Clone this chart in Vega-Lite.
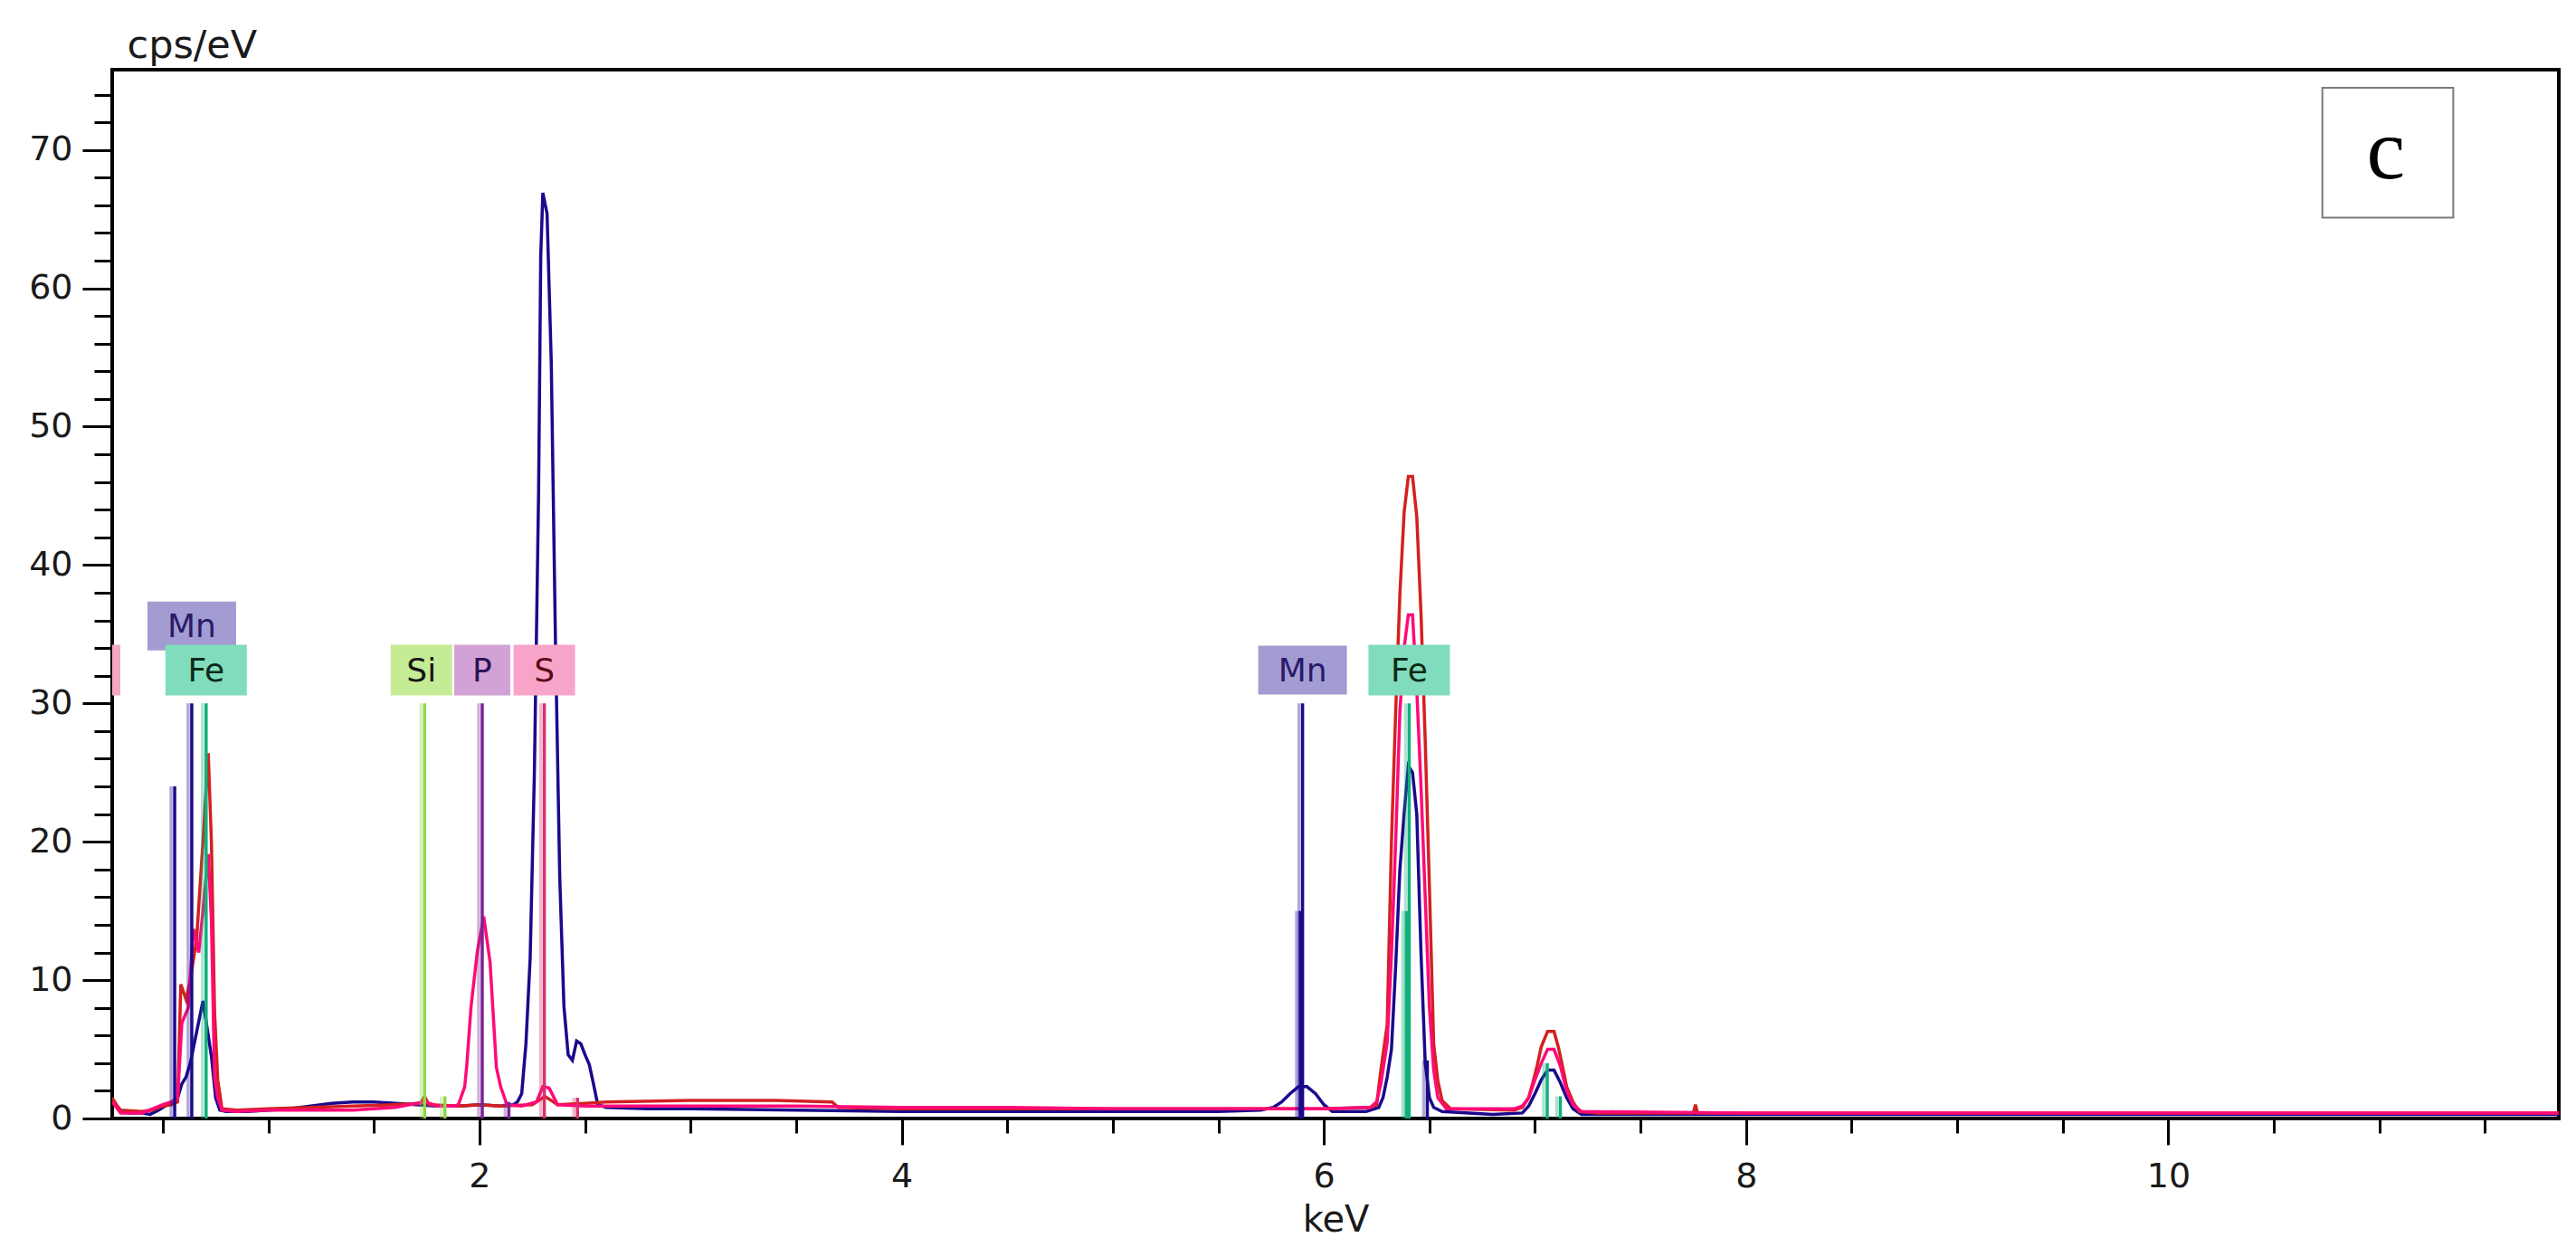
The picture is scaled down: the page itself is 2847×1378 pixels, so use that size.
{
  "$schema": "https://vega.github.io/schema/vega-lite/v6.json",
  "autosize": {"type": "none"},
  "width": 2704,
  "height": 1159,
  "padding": {"left": 124, "top": 77, "right": 19, "bottom": 142},
  "background": "white",
  "config": {"view": {"stroke": "black", "strokeWidth": 4}, "font": "DejaVu Sans"},
  "datasets": {
    "spectra": [
      {"series":"A","keV":0.26,"cps":1.3},{"series":"A","keV":0.28,"cps":0.9},{"series":"A","keV":0.30,"cps":0.5},{"series":"A","keV":0.34,"cps":0.4},{"series":"A","keV":0.40,"cps":0.4},{"series":"A","keV":0.44,"cps":0.3},{"series":"A","keV":0.48,"cps":0.6},{"series":"A","keV":0.52,"cps":1.0},{"series":"A","keV":0.55,"cps":1.2},{"series":"A","keV":0.57,"cps":1.5},{"series":"A","keV":0.59,"cps":2.5},{"series":"A","keV":0.61,"cps":3.0},{"series":"A","keV":0.63,"cps":4.0},{"series":"A","keV":0.65,"cps":5.5},{"series":"A","keV":0.67,"cps":7.0},{"series":"A","keV":0.69,"cps":8.5},{"series":"A","keV":0.71,"cps":6.5},{"series":"A","keV":0.73,"cps":4.5},{"series":"A","keV":0.75,"cps":1.5},{"series":"A","keV":0.77,"cps":0.6},{"series":"A","keV":0.80,"cps":0.5},{"series":"A","keV":0.90,"cps":0.5},{"series":"A","keV":1.00,"cps":0.6},{"series":"A","keV":1.10,"cps":0.7},{"series":"A","keV":1.20,"cps":0.9},{"series":"A","keV":1.30,"cps":1.1},{"series":"A","keV":1.40,"cps":1.2},{"series":"A","keV":1.50,"cps":1.2},{"series":"A","keV":1.60,"cps":1.1},{"series":"A","keV":1.70,"cps":1.0},{"series":"A","keV":1.80,"cps":0.9},{"series":"A","keV":1.90,"cps":0.9},{"series":"A","keV":2.00,"cps":1.0},{"series":"A","keV":2.10,"cps":0.9},{"series":"A","keV":2.16,"cps":1.0},{"series":"A","keV":2.18,"cps":1.2},{"series":"A","keV":2.20,"cps":1.8},{"series":"A","keV":2.22,"cps":5.4},{"series":"A","keV":2.24,"cps":11.6},{"series":"A","keV":2.26,"cps":25.0},{"series":"A","keV":2.28,"cps":45.3},{"series":"A","keV":2.29,"cps":62.3},{"series":"A","keV":2.30,"cps":66.9},{"series":"A","keV":2.32,"cps":65.4},{"series":"A","keV":2.34,"cps":54.6},{"series":"A","keV":2.36,"cps":34.3},{"series":"A","keV":2.38,"cps":17.5},{"series":"A","keV":2.40,"cps":8.1},{"series":"A","keV":2.42,"cps":4.6},{"series":"A","keV":2.44,"cps":4.2},{"series":"A","keV":2.46,"cps":5.6},{"series":"A","keV":2.48,"cps":5.4},{"series":"A","keV":2.50,"cps":4.6},{"series":"A","keV":2.52,"cps":3.9},{"series":"A","keV":2.54,"cps":2.5},{"series":"A","keV":2.56,"cps":1.0},{"series":"A","keV":2.60,"cps":0.8},{"series":"A","keV":2.80,"cps":0.7},{"series":"A","keV":3.00,"cps":0.7},{"series":"A","keV":3.50,"cps":0.6},{"series":"A","keV":4.00,"cps":0.5},{"series":"A","keV":4.50,"cps":0.5},{"series":"A","keV":5.00,"cps":0.5},{"series":"A","keV":5.50,"cps":0.5},{"series":"A","keV":5.70,"cps":0.6},{"series":"A","keV":5.76,"cps":0.8},{"series":"A","keV":5.80,"cps":1.2},{"series":"A","keV":5.84,"cps":1.8},{"series":"A","keV":5.88,"cps":2.3},{"series":"A","keV":5.92,"cps":2.3},{"series":"A","keV":5.96,"cps":1.8},{"series":"A","keV":6.00,"cps":1.0},{"series":"A","keV":6.04,"cps":0.5},{"series":"A","keV":6.20,"cps":0.5},{"series":"A","keV":6.26,"cps":0.8},{"series":"A","keV":6.28,"cps":1.5},{"series":"A","keV":6.30,"cps":3.0},{"series":"A","keV":6.32,"cps":5.0},{"series":"A","keV":6.34,"cps":11.0},{"series":"A","keV":6.36,"cps":18.0},{"series":"A","keV":6.38,"cps":22.0},{"series":"A","keV":6.40,"cps":25.5},{"series":"A","keV":6.42,"cps":25.0},{"series":"A","keV":6.44,"cps":22.0},{"series":"A","keV":6.46,"cps":12.0},{"series":"A","keV":6.48,"cps":4.0},{"series":"A","keV":6.50,"cps":1.5},{"series":"A","keV":6.52,"cps":0.8},{"series":"A","keV":6.56,"cps":0.5},{"series":"A","keV":6.80,"cps":0.3},{"series":"A","keV":6.94,"cps":0.4},{"series":"A","keV":6.97,"cps":0.9},{"series":"A","keV":7.00,"cps":1.8},{"series":"A","keV":7.03,"cps":2.8},{"series":"A","keV":7.06,"cps":3.5},{"series":"A","keV":7.09,"cps":3.5},{"series":"A","keV":7.12,"cps":2.6},{"series":"A","keV":7.15,"cps":1.5},{"series":"A","keV":7.18,"cps":0.7},{"series":"A","keV":7.22,"cps":0.3},{"series":"A","keV":8.00,"cps":0.3},{"series":"A","keV":10.00,"cps":0.3},{"series":"A","keV":11.85,"cps":0.3},
      {"series":"B","keV":0.26,"cps":1.5},{"series":"B","keV":0.28,"cps":1.0},{"series":"B","keV":0.30,"cps":0.6},{"series":"B","keV":0.40,"cps":0.5},{"series":"B","keV":0.45,"cps":0.6},{"series":"B","keV":0.50,"cps":0.9},{"series":"B","keV":0.54,"cps":1.0},{"series":"B","keV":0.57,"cps":1.2},{"series":"B","keV":0.585,"cps":9.7},{"series":"B","keV":0.61,"cps":8.6},{"series":"B","keV":0.63,"cps":10.0},{"series":"B","keV":0.66,"cps":13.0},{"series":"B","keV":0.69,"cps":20.0},{"series":"B","keV":0.715,"cps":26.4},{"series":"B","keV":0.73,"cps":20.0},{"series":"B","keV":0.745,"cps":7.7},{"series":"B","keV":0.76,"cps":2.8},{"series":"B","keV":0.78,"cps":0.7},{"series":"B","keV":0.85,"cps":0.6},{"series":"B","keV":1.00,"cps":0.7},{"series":"B","keV":1.20,"cps":0.8},{"series":"B","keV":1.40,"cps":0.9},{"series":"B","keV":1.60,"cps":1.0},{"series":"B","keV":1.72,"cps":1.1},{"series":"B","keV":1.74,"cps":1.6},{"series":"B","keV":1.76,"cps":1.0},{"series":"B","keV":1.90,"cps":0.9},{"series":"B","keV":2.00,"cps":1.0},{"series":"B","keV":2.10,"cps":0.9},{"series":"B","keV":2.25,"cps":1.0},{"series":"B","keV":2.31,"cps":1.6},{"series":"B","keV":2.37,"cps":1.0},{"series":"B","keV":2.50,"cps":1.1},{"series":"B","keV":2.60,"cps":1.2},{"series":"B","keV":3.00,"cps":1.3},{"series":"B","keV":3.40,"cps":1.3},{"series":"B","keV":3.67,"cps":1.2},{"series":"B","keV":3.70,"cps":0.8},{"series":"B","keV":4.00,"cps":0.7},{"series":"B","keV":5.00,"cps":0.7},{"series":"B","keV":6.00,"cps":0.7},{"series":"B","keV":6.22,"cps":0.8},{"series":"B","keV":6.25,"cps":1.0},{"series":"B","keV":6.27,"cps":3.5},{"series":"B","keV":6.30,"cps":6.8},{"series":"B","keV":6.32,"cps":20.0},{"series":"B","keV":6.34,"cps":29.4},{"series":"B","keV":6.36,"cps":37.9},{"series":"B","keV":6.38,"cps":43.8},{"series":"B","keV":6.40,"cps":46.4},{"series":"B","keV":6.42,"cps":46.4},{"series":"B","keV":6.44,"cps":43.5},{"series":"B","keV":6.46,"cps":36.5},{"series":"B","keV":6.48,"cps":27.3},{"series":"B","keV":6.50,"cps":16.7},{"series":"B","keV":6.52,"cps":5.4},{"series":"B","keV":6.54,"cps":2.7},{"series":"B","keV":6.56,"cps":1.3},{"series":"B","keV":6.60,"cps":0.7},{"series":"B","keV":6.90,"cps":0.6},{"series":"B","keV":6.94,"cps":0.8},{"series":"B","keV":6.97,"cps":1.5},{"series":"B","keV":6.99,"cps":2.6},{"series":"B","keV":7.01,"cps":3.8},{"series":"B","keV":7.03,"cps":5.2},{"series":"B","keV":7.06,"cps":6.3},{"series":"B","keV":7.09,"cps":6.3},{"series":"B","keV":7.11,"cps":5.2},{"series":"B","keV":7.13,"cps":3.8},{"series":"B","keV":7.15,"cps":2.3},{"series":"B","keV":7.18,"cps":1.2},{"series":"B","keV":7.21,"cps":0.5},{"series":"B","keV":7.30,"cps":0.4},{"series":"B","keV":7.75,"cps":0.4},{"series":"B","keV":7.76,"cps":1.0},{"series":"B","keV":7.77,"cps":0.4},{"series":"B","keV":9.00,"cps":0.4},{"series":"B","keV":11.85,"cps":0.4},
      {"series":"C","keV":0.26,"cps":1.2},{"series":"C","keV":0.28,"cps":0.8},{"series":"C","keV":0.30,"cps":0.4},{"series":"C","keV":0.40,"cps":0.4},{"series":"C","keV":0.45,"cps":0.7},{"series":"C","keV":0.50,"cps":1.0},{"series":"C","keV":0.54,"cps":1.2},{"series":"C","keV":0.57,"cps":1.5},{"series":"C","keV":0.59,"cps":6.9},{"series":"C","keV":0.62,"cps":8.0},{"series":"C","keV":0.645,"cps":13.7},{"series":"C","keV":0.67,"cps":12.0},{"series":"C","keV":0.69,"cps":15.0},{"series":"C","keV":0.715,"cps":19.1},{"series":"C","keV":0.73,"cps":14.3},{"series":"C","keV":0.745,"cps":3.0},{"series":"C","keV":0.76,"cps":1.5},{"series":"C","keV":0.78,"cps":0.6},{"series":"C","keV":0.85,"cps":0.5},{"series":"C","keV":1.00,"cps":0.6},{"series":"C","keV":1.20,"cps":0.6},{"series":"C","keV":1.40,"cps":0.6},{"series":"C","keV":1.60,"cps":0.8},{"series":"C","keV":1.74,"cps":1.2},{"series":"C","keV":1.80,"cps":0.9},{"series":"C","keV":1.88,"cps":0.9},{"series":"C","keV":1.90,"cps":1.0},{"series":"C","keV":1.93,"cps":2.3},{"series":"C","keV":1.94,"cps":3.9},{"series":"C","keV":1.96,"cps":8.1},{"series":"C","keV":1.99,"cps":12.1},{"series":"C","keV":2.02,"cps":14.6},{"series":"C","keV":2.05,"cps":11.3},{"series":"C","keV":2.08,"cps":3.7},{"series":"C","keV":2.10,"cps":2.3},{"series":"C","keV":2.13,"cps":1.0},{"series":"C","keV":2.20,"cps":0.9},{"series":"C","keV":2.27,"cps":1.2},{"series":"C","keV":2.30,"cps":2.3},{"series":"C","keV":2.33,"cps":2.2},{"series":"C","keV":2.37,"cps":1.0},{"series":"C","keV":2.50,"cps":0.9},{"series":"C","keV":3.00,"cps":0.9},{"series":"C","keV":3.50,"cps":0.9},{"series":"C","keV":4.00,"cps":0.8},{"series":"C","keV":4.50,"cps":0.8},{"series":"C","keV":5.00,"cps":0.7},{"series":"C","keV":5.50,"cps":0.7},{"series":"C","keV":6.00,"cps":0.7},{"series":"C","keV":6.22,"cps":0.8},{"series":"C","keV":6.25,"cps":1.2},{"series":"C","keV":6.27,"cps":2.5},{"series":"C","keV":6.30,"cps":5.5},{"series":"C","keV":6.32,"cps":11.8},{"series":"C","keV":6.34,"cps":20.0},{"series":"C","keV":6.36,"cps":29.4},{"series":"C","keV":6.38,"cps":34.0},{"series":"C","keV":6.40,"cps":36.4},{"series":"C","keV":6.42,"cps":36.4},{"series":"C","keV":6.44,"cps":31.0},{"series":"C","keV":6.46,"cps":24.0},{"series":"C","keV":6.48,"cps":16.0},{"series":"C","keV":6.50,"cps":8.0},{"series":"C","keV":6.52,"cps":3.5},{"series":"C","keV":6.54,"cps":1.5},{"series":"C","keV":6.58,"cps":0.7},{"series":"C","keV":6.90,"cps":0.7},{"series":"C","keV":6.94,"cps":0.9},{"series":"C","keV":6.97,"cps":1.5},{"series":"C","keV":7.00,"cps":2.8},{"series":"C","keV":7.03,"cps":4.0},{"series":"C","keV":7.06,"cps":5.0},{"series":"C","keV":7.09,"cps":5.0},{"series":"C","keV":7.12,"cps":3.8},{"series":"C","keV":7.15,"cps":2.0},{"series":"C","keV":7.18,"cps":1.0},{"series":"C","keV":7.22,"cps":0.5},{"series":"C","keV":8.00,"cps":0.4},{"series":"C","keV":11.85,"cps":0.4}
    ],
    "markers": [
      {"el":"Mn","keV":0.556,"cps":24},{"el":"Mn","keV":0.637,"cps":30},{"el":"Mn","keV":5.888,"cps":15},{"el":"Mn","keV":5.899,"cps":30},{"el":"Mn","keV":6.49,"cps":4.2},
      {"el":"Fe","keV":0.705,"cps":30},{"el":"Fe","keV":6.391,"cps":15},{"el":"Fe","keV":6.404,"cps":30},{"el":"Fe","keV":7.058,"cps":4.0},{"el":"Fe","keV":7.12,"cps":1.6},
      {"el":"Si","keV":1.74,"cps":30},{"el":"Si","keV":1.836,"cps":1.6},
      {"el":"P","keV":2.013,"cps":30},{"el":"P","keV":2.139,"cps":1.2},
      {"el":"S","keV":2.307,"cps":30},{"el":"S","keV":2.464,"cps":1.5}
    ],
    "labels": [
      {"el":"O","keV":0.17,"cps":32.4},
      {"el":"Mn","keV":0.637,"cps":35.6},
      {"el":"Fe","keV":0.705,"cps":32.4},
      {"el":"Si","keV":1.725,"cps":32.4},
      {"el":"P","keV":2.013,"cps":32.4},
      {"el":"S","keV":2.307,"cps":32.4},
      {"el":"Mn","keV":5.899,"cps":32.4},
      {"el":"Fe","keV":6.404,"cps":32.4}
    ]
  },
  "layer": [
    {
      "data": {"name": "spectra"},
      "mark": {"type": "line", "strokeWidth": 3.5, "clip": true},
      "encoding": {
        "x": {"field": "keV", "type": "quantitative",
          "scale": {"domain": [0.26, 11.85], "nice": false, "zero": false},
          "axis": {
            "orient": "bottom",
            "values": [0.5,1,1.5,2,2.5,3,3.5,4,4.5,5,5.5,6,6.5,7,7.5,8,8.5,9,9.5,10,10.5,11,11.5],
            "labels": false, "tickSize": 16, "tickWidth": 3, "tickColor": "#000",
            "domain": false, "grid": false, "title": null
          }
        },
        "y": {"field": "cps", "type": "quantitative",
          "scale": {"domain": [0, 75.8], "nice": false},
          "axis": {
            "orient": "left",
            "values": [0,2,4,6,8,10,12,14,16,18,20,22,24,26,28,30,32,34,36,38,40,42,44,46,48,50,52,54,56,58,60,62,64,66,68,70,72,74],
            "labels": false, "tickSize": 20, "tickWidth": 3, "tickColor": "#000",
            "domain": false, "grid": false, "title": null
          }
        },
        "stroke": {"field": "series", "type": "nominal", "legend": null,
          "scale": {"domain": ["A","B","C"], "range": ["#1a0a8c","#d42020","#ff0a78"]}}
      }
    },
    {
      "data": {"name": "markers"},
      "mark": {"type": "rule", "strokeWidth": 3.5, "xOffset": -4, "opacity": 0.35, "clip": true},
      "encoding": {
        "x": {"field": "keV", "type": "quantitative", "axis": null},
        "y": {"field": "cps", "type": "quantitative", "axis": null},
        "y2": {"datum": 0},
        "color": {"field": "el", "type": "nominal", "legend": null,
          "scale": {"domain": ["Mn","Fe","Si","P","S"], "range": ["#1a0a8c","#10b07a","#8ed84a","#7a2296","#d8306e"]}}
      }
    },
    {
      "data": {"name": "markers"},
      "mark": {"type": "rule", "strokeWidth": 3.5, "clip": true},
      "encoding": {
        "x": {"field": "keV", "type": "quantitative",
          "axis": {
            "orient": "bottom", "values": [2,4,6,8,10], "format": "d",
            "tickSize": 29, "tickWidth": 3, "tickColor": "#000", "domain": false, "grid": false,
            "labelFont": "DejaVu Sans", "labelFontSize": 38, "labelColor": "#1a1a1a", "labelPadding": 16,
            "labelFlush": false, "labelOverlap": false, "labelBound": false,
            "title": "keV", "titleFont": "DejaVu Sans", "titleFontSize": 40, "titleFontWeight": "normal",
            "titleColor": "#1a1a1a", "titleBaseline": "alphabetic", "titleY": 124
          }
        },
        "y": {"field": "cps", "type": "quantitative",
          "axis": {
            "orient": "left", "values": [0,10,20,30,40,50,60,70], "format": "d",
            "tickSize": 33, "tickWidth": 3, "tickColor": "#000", "domain": false, "grid": false,
            "labelFont": "DejaVu Sans", "labelFontSize": 38, "labelColor": "#1a1a1a", "labelPadding": 11,
            "labelFlush": false, "labelOverlap": false, "labelBound": false,
            "title": "cps/eV", "titleFont": "DejaVu Sans", "titleFontSize": 43, "titleFontWeight": "normal",
            "titleColor": "#1a1a1a", "titleAngle": 0, "titleAlign": "left", "titleBaseline": "alphabetic",
            "titleX": 16, "titleY": -14
          }
        },
        "y2": {"datum": 0},
        "color": {"field": "el", "type": "nominal", "legend": null,
          "scale": {"domain": ["Mn","Fe","Si","P","S"], "range": ["#1a0a8c","#10b07a","#8ed84a","#7a2296","#d8306e"]}}
      }
    },
    {
      "data": {"name": "labels"},
      "transform": [{"filter": "datum.el === 'O'"}],
      "mark": {"type": "rect", "xOffset": -30, "x2Offset": 30, "yOffset": -28, "y2Offset": 28, "clip": true},
      "encoding": {
        "x": {"field": "keV", "type": "quantitative", "axis": null},
        "x2": {"field": "keV"},
        "y": {"field": "cps", "type": "quantitative", "axis": null},
        "y2": {"field": "cps"},
        "fill": {"value": "#f4a8c4"}
      }
    },
    {
      "data": {"name": "labels"},
      "transform": [{"filter": "datum.el === 'Mn'"}],
      "mark": {"type": "rect", "xOffset": -49, "x2Offset": 49, "yOffset": -27, "y2Offset": 27, "clip": true},
      "encoding": {
        "x": {"field": "keV", "type": "quantitative", "axis": null},
        "x2": {"field": "keV"},
        "y": {"field": "cps", "type": "quantitative", "axis": null},
        "y2": {"field": "cps"},
        "fill": {"value": "#a29cd2"}
      }
    },
    {
      "data": {"name": "labels"},
      "transform": [{"filter": "datum.el === 'Fe'"}],
      "mark": {"type": "rect", "xOffset": -45, "x2Offset": 45, "yOffset": -28, "y2Offset": 28, "clip": true},
      "encoding": {
        "x": {"field": "keV", "type": "quantitative", "axis": null},
        "x2": {"field": "keV"},
        "y": {"field": "cps", "type": "quantitative", "axis": null},
        "y2": {"field": "cps"},
        "fill": {"value": "#80dcbc"}
      }
    },
    {
      "data": {"name": "labels"},
      "transform": [{"filter": "datum.el === 'Si' || datum.el === 'S'"}],
      "mark": {"type": "rect", "xOffset": -34, "x2Offset": 34, "yOffset": -28, "y2Offset": 28, "clip": true},
      "encoding": {
        "x": {"field": "keV", "type": "quantitative", "axis": null},
        "x2": {"field": "keV"},
        "y": {"field": "cps", "type": "quantitative", "axis": null},
        "y2": {"field": "cps"},
        "fill": {"field": "el", "type": "nominal", "legend": null,
          "scale": {"domain": ["Si","S"], "range": ["#c4ec94","#f8a4c8"]}}
      }
    },
    {
      "data": {"name": "labels"},
      "transform": [{"filter": "datum.el === 'P'"}],
      "mark": {"type": "rect", "xOffset": -31, "x2Offset": 31, "yOffset": -28, "y2Offset": 28, "clip": true},
      "encoding": {
        "x": {"field": "keV", "type": "quantitative", "axis": null},
        "x2": {"field": "keV"},
        "y": {"field": "cps", "type": "quantitative", "axis": null},
        "y2": {"field": "cps"},
        "fill": {"value": "#d2a2d6"}
      }
    },
    {
      "data": {"name": "labels"},
      "mark": {"type": "text", "font": "DejaVu Sans", "fontSize": 36, "baseline": "middle", "align": "center", "dy": 1, "clip": true},
      "encoding": {
        "x": {"field": "keV", "type": "quantitative", "axis": null},
        "y": {"field": "cps", "type": "quantitative", "axis": null},
        "text": {"field": "el"},
        "color": {"field": "el", "type": "nominal", "legend": null,
          "scale": {"domain": ["Mn","Fe","Si","P","S","O"], "range": ["#2a1a6a","#0c2a16","#141414","#2a1454","#5a0a1a","#5a0a1a"]}}
      }
    },
    {
      "data": {"values": [{"panel": "c"}]},
      "mark": {"type": "rect", "fill": "white", "stroke": "#7a7a7a", "strokeWidth": 2},
      "encoding": {
        "x": {"datum": 10.73, "type": "quantitative", "axis": null},
        "x2": {"datum": 11.35},
        "y": {"datum": 74.5, "type": "quantitative", "axis": null},
        "y2": {"datum": 65.1}
      }
    },
    {
      "data": {"values": [{"panel": "c"}]},
      "mark": {"type": "text", "font": "Liberation Serif", "fontSize": 96, "baseline": "alphabetic", "align": "center", "color": "#000"},
      "encoding": {
        "x": {"datum": 11.03, "type": "quantitative", "axis": null},
        "y": {"datum": 67.95, "type": "quantitative", "axis": null},
        "text": {"field": "panel"}
      }
    }
  ],
  "resolve": {
    "axis": {"x": "independent", "y": "independent"},
    "scale": {"color": "independent", "fill": "independent", "stroke": "independent"}
  }
}
